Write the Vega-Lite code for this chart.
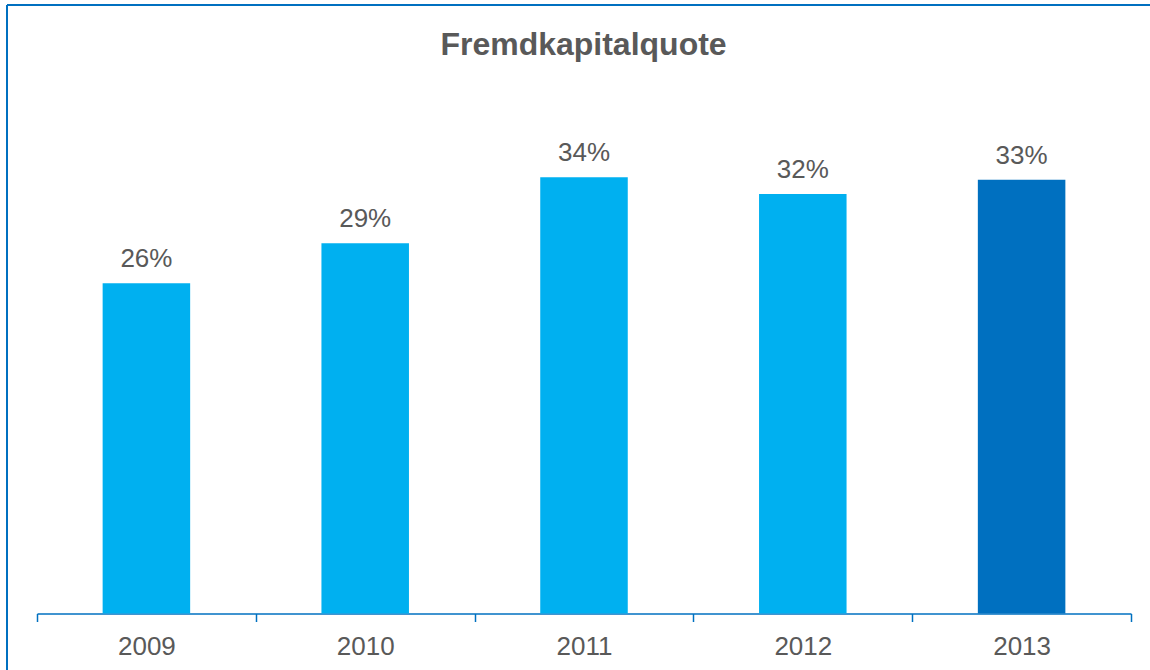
{
  "$schema": "https://vega.github.io/schema/vega-lite/v6.json",
  "autosize": {"type": "none"},
  "padding": {"left": 7, "top": 5, "right": 0, "bottom": 0},
  "width": 1143,
  "height": 665,
  "background": "white",
  "config": {
    "view": {"stroke": "#0070C0", "strokeWidth": 2, "strokeDash": [1143, 1808, 665, 0]},
    "font": "Liberation Sans"
  },
  "title": {
    "text": "Fremdkapitalquote",
    "font": "Liberation Sans",
    "fontSize": 32,
    "fontWeight": "bold",
    "color": "#595959",
    "anchor": "middle",
    "frame": "group",
    "baseline": "top",
    "offset": -57,
    "dx": 5
  },
  "data": {
    "values": [
      {"year": "2009", "value": 25.5, "label": "26%"},
      {"year": "2010", "value": 28.6, "label": "29%"},
      {"year": "2011", "value": 33.7, "label": "34%"},
      {"year": "2012", "value": 32.4, "label": "32%"},
      {"year": "2013", "value": 33.5, "label": "33%"}
    ]
  },
  "encoding": {
    "x": {
      "field": "year",
      "type": "nominal",
      "sort": null,
      "scale": {"range": [30, 1124], "paddingInner": 0, "paddingOuter": 0},
      "axis": {
        "title": null,
        "orient": "bottom",
        "offset": -56.5,
        "labelAngle": 0,
        "tickBand": "extent",
        "domainColor": "#0070C0",
        "domainWidth": 1.5,
        "tickColor": "#0070C0",
        "tickWidth": 1.5,
        "tickSize": 8,
        "labelFont": "Liberation Sans",
        "labelFontSize": 26,
        "labelColor": "#595959",
        "labelBaseline": "alphabetic",
        "labelPadding": 33
      }
    },
    "y": {
      "field": "value",
      "type": "quantitative",
      "scale": {"domain": [0, 47], "range": [608.5, 0], "nice": false},
      "axis": null
    }
  },
  "layer": [
    {
      "mark": {"type": "bar", "width": {"band": 0.4}},
      "encoding": {
        "color": {
          "condition": {"test": "datum.year == '2013'", "value": "#0070C0"},
          "value": "#00B0F0"
        }
      }
    },
    {
      "mark": {
        "type": "text",
        "baseline": "alphabetic",
        "dy": -16,
        "fontSize": 26,
        "font": "Liberation Sans",
        "color": "#595959"
      },
      "encoding": {"text": {"field": "label"}}
    }
  ]
}
